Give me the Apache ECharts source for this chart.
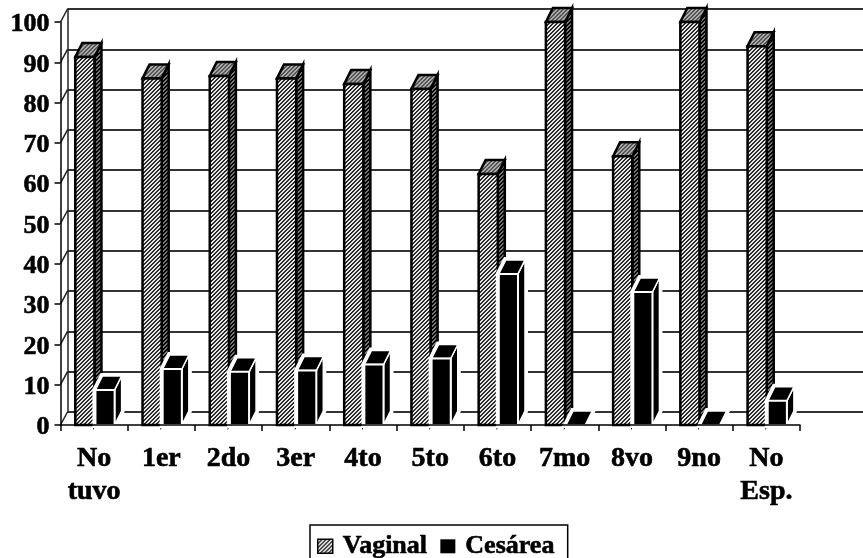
<!DOCTYPE html>
<html><head><meta charset="utf-8">
<style>html,body{margin:0;padding:0;background:#fff;overflow:hidden}#c{width:863px;height:558px}</style>
<script src="https://cdn.jsdelivr.net/npm/echarts@6/dist/echarts.min.js"></script>
</head><body><div id="c"></div>
<script>
const categories = ['No\ntuvo','1er','2do','3er','4to','5to','6to','7mo','8vo','9no','No\nEsp.'];
const vaginal = [91.3,86,86.6,86,84.6,83.4,62.3,100,66.7,100,94];
const cesarea = [8.7,13.9,13.2,13.5,15,16.5,37.5,0,33,0,6];
const yTicks = [0,10,20,30,40,50,60,70,80,90,100];

function hatch(dark, light){
  const s=document.createElement('canvas'); s.width=s.height=4;
  const g=s.getContext('2d'); g.fillStyle=light; g.fillRect(0,0,4,4); g.fillStyle=dark;
  for(let i=0;i<4;i++){ g.fillRect(i,3-i,1,1); g.fillRect((i+1)%4,3-i,1,1); }
  return {image:s,repeat:'repeat'};
}
const FRONT=hatch('#2a2a2a','#e8e8e8'), SIDE=hatch('#000','#777'), TOP=hatch('#555','#aaa');
const DX=7, DY=14;
const font='"Liberation Serif","Times New Roman",serif';
const heavy={textBorderColor:'#000',textBorderWidth:0.6};

function bar3d(offsetFrac, widthFrac, cesa){
  return function(params, api){
    const i=api.value(0), v=api.value(1);
    const band=api.size([1,0])[0];
    const base=api.coord([i,0]), top=api.coord([i,v]);
    const x0=base[0]+offsetFrac*band, w=widthFrac*band, x1=x0+w, yb=base[1], yt=top[1];
    const front=[[x0,yt],[x1,yt],[x1,yb],[x0,yb]];
    const side=[[x1,yt],[x1+DX,yt-DY],[x1+DX,yb-DY],[x1,yb]];
    const roof=[[x0,yt],[x0+DX,yt-DY],[x1+DX,yt-DY],[x1,yt]];
    const poly=(pts,fill,stroke,lw)=>({type:'polygon',shape:{points:pts},style:{fill,stroke,lineWidth:lw,lineJoin:'miter'}});
    const children=[];
    if(cesa){
      const halo=[[x0,yt],[x0+DX,yt-DY],[x1+DX,yt-DY],[x1+DX,yb-DY],[x1,yb],[x0,yb]];
      children.push(poly(halo,'#fff','#fff',6));
      if(v>0) children.push(poly(side,'#000','#fff',1.5));
      children.push(poly(roof,'#000','#fff',1.5));
      if(v>0) children.push(poly(front,'#000','#fff',2));
    }else{
      children.push(poly(side,SIDE,'#000',2.5));
      children.push(poly(roof,TOP,'#000',2.5));
      children.push(poly(front,FRONT,'#000',2.5));
    }
    return {type:'group',children};
  };
}
function connectors(params, api){
  const p=api.coord([0,api.value(0)]);
  const x=params.coordSys.x;
  return {type:'line',shape:{x1:x,y1:p[1],x2:x+DX,y2:p[1]-13},style:{stroke:'#222',lineWidth:1.5}};
}

const chart=echarts.init(document.getElementById('c'),null,{renderer:'canvas'});
chart.setOption({
  animation:false,
  backgroundColor:'#fff',
  grid:[
    {left:60.5,top:22,width:739.5,height:403},
    {left:67.5,top:9,width:796,height:403}
  ],
  xAxis:[
    {type:'category',gridIndex:0,data:categories,boundaryGap:true,z:5,
     axisLine:{show:true,lineStyle:{color:'#000',width:1.5}},
     axisTick:{show:true,alignWithLabel:false,length:6,lineStyle:{color:'#000',width:1.5}},
     axisLabel:{color:'#000',fontFamily:font,fontWeight:'bold',fontSize:28,lineHeight:33,margin:17,interval:0,...heavy},
     splitLine:{show:false}},
    {type:'category',gridIndex:1,data:categories,show:false}
  ],
  yAxis:[
    {type:'value',gridIndex:0,min:0,max:100,interval:10,z:5,
     axisLine:{show:true,lineStyle:{color:'#000',width:1.5}},
     axisTick:{show:true,length:6,lineStyle:{color:'#000',width:1.5}},
     axisLabel:{color:'#000',fontFamily:font,fontWeight:'bold',fontSize:26,margin:11,verticalAlign:'top',lineHeight:5,...heavy},
     splitLine:{show:false}},
    {type:'value',gridIndex:1,min:0,max:100,interval:10,
     axisLine:{show:true,lineStyle:{color:'#222',width:1.5}},
     axisTick:{show:false},axisLabel:{show:false},
     splitLine:{show:true,lineStyle:{color:'#333',width:2}}}
  ],
  legend:{
    left:310,top:525,orient:'horizontal',
    borderColor:'#000',borderWidth:1.5,padding:[8,13,12,7],
    itemWidth:15,itemHeight:14,itemGap:13,
    selectedMode:false,
    textStyle:{color:'#000',fontFamily:font,fontWeight:'bold',fontSize:26,padding:[0,0,0,5],...heavy},
    data:[
      {name:'Vaginal',icon:'rect',itemStyle:{color:hatch('#222','#fff'),borderColor:'#000',borderWidth:1.5}},
      {name:'Cesárea',icon:'rect',itemStyle:{color:'#000',borderWidth:0}}
    ]
  },
  series:[
    {type:'custom',name:'rejilla',xAxisIndex:0,yAxisIndex:0,z:1,silent:true,
     renderItem:connectors,data:yTicks.map(t=>[t]),encode:{y:0}},
    {type:'custom',name:'Vaginal',xAxisIndex:0,yAxisIndex:0,z:2,
     renderItem:bar3d(-0.28,0.285,false),
     data:vaginal.map((v,i)=>[i,v]),encode:{x:0,y:1}},
    {type:'custom',name:'Cesárea',xAxisIndex:0,yAxisIndex:0,z:3,
     renderItem:bar3d(0.02,0.285,true),
     data:cesarea.map((v,i)=>[i,v]),encode:{x:0,y:1}}
  ]
});
</script></body></html>
